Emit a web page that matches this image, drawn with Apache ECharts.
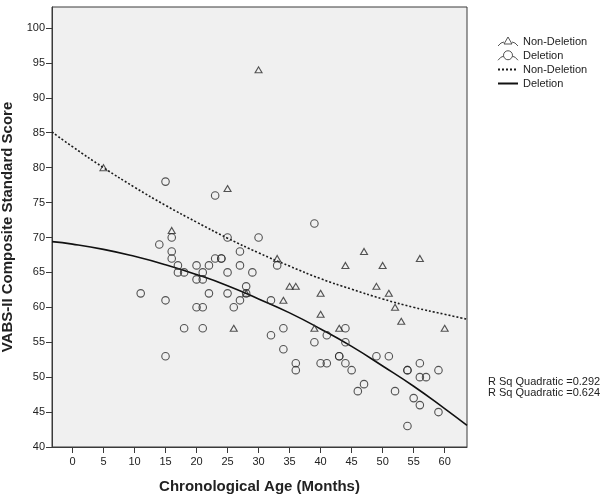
<!DOCTYPE html>
<html>
<head>
<meta charset="utf-8">
<script src="https://cdn.jsdelivr.net/npm/echarts@6/dist/echarts.min.js"></script>
<style>
html,body{margin:0;padding:0;background:#fff;}
#chart{width:607px;height:501px;}
</style>
</head>
<body>
<div id="chart"></div>
<script>
// ---- data ----
const nonDelAge   = [5, 30, 25, 16, 33, 35, 36, 34, 26, 40, 40, 39, 43, 44, 47, 49, 50, 51, 52, 53, 56, 60, 28];
const nonDelScore = [80, 94, 77, 71, 67, 63, 63, 61, 57, 62, 59, 57, 57, 66, 68, 63, 66, 62, 60, 58, 67, 57, 62];

const delAge   = [15, 23, 39, 30, 25, 16, 14, 16, 16, 27, 23, 24, 24, 17, 20, 22, 27, 33, 17, 18, 21, 25, 29, 20, 21, 28,
                  11, 22, 25, 28, 15, 27, 32, 20, 21, 26, 18, 21, 34, 44, 32, 41, 39, 44, 34, 15, 43, 43, 49, 51,
                  36, 40, 41, 44, 56, 36, 45, 54, 54, 59, 56, 57, 47, 46, 52, 55, 56, 59, 54];
const delScore = [78, 76, 72, 70, 70, 70, 69, 68, 67, 68, 67, 67, 67, 66, 66, 66, 66, 66, 65, 65, 65, 65, 65, 64, 64, 63,
                  62, 62, 62, 62, 61, 61, 61, 60, 60, 60, 57, 57, 57, 57, 56, 56, 55, 55, 54, 53, 53, 53, 53, 53,
                  52, 52, 52, 52, 52, 51, 51, 51, 51, 51, 50, 50, 49, 48, 48, 47, 46, 45, 43];

// quadratic fit lines at these ages
const fitAge      = [-3.3, 0, 5, 10, 15, 20, 25, 30, 35, 40, 45, 50, 55, 60, 63.6];
const nonDelFit   = [85.1, 83.0, 80.0, 77.2, 74.6, 72.2, 69.9, 67.8, 65.9, 64.1, 62.6, 61.2, 60.0, 59.0, 58.3];
const delFit      = [69.4, 69.05, 68.3, 67.3, 66.1, 64.7, 63.1, 61.2, 59.2, 56.9, 54.4, 51.6, 48.7, 45.5, 43.1];

const xTicks = [0, 5, 10, 15, 20, 25, 30, 35, 40, 45, 50, 55, 60];
const yTicks = [40, 45, 50, 55, 60, 65, 70, 75, 80, 85, 90, 95, 100];

const xTitle = 'Chronological Age (Months)';
const yTitle = 'VABS-II Composite Standard Score';
const legendNames = ['Non-Deletion', 'Deletion', 'Non-Deletion\u200b', 'Deletion\u200b'];
const rsqLabels = ['R Sq Quadratic =0.292', 'R Sq Quadratic =0.624'];

// ---- build ----
const zip = (a, b) => a.map((v, i) => [v, b[i]]);
const FONT = 'Liberation Sans, Arial, sans-serif';
const ink = '#2a2a2a';

const triIcon = 'path://M0,10 Q3,6 6,6 M14,6 Q17,6 20,10 M6,8 L10,1 L14,8 Z';
const cirIcon = 'path://M0,10 Q3,6 5.5,6 M14.5,6 Q17,6 20,10 M14.5,5 A4.5,4.5 0 1 1 5.5,5 A4.5,4.5 0 1 1 14.5,5 Z';
const hidden = {color: 'rgba(0,0,0,0)', borderColor: 'rgba(0,0,0,0)', borderWidth: 0, opacity: 0};

const chart = echarts.init(document.getElementById('chart'), null, {renderer: 'canvas'});
chart.setOption({
  backgroundColor: '#ffffff',
  animation: false,
  textStyle: {fontFamily: FONT},
  grid: {
    left: 52, top: 7, width: 415, height: 440,
    show: true, backgroundColor: '#f0f0f0', borderColor: '#3a3a3a', borderWidth: 1,
    outerBoundsMode: 'none'
  },
  xAxis: {
    type: 'value', min: -3.3, max: 63.6,
    name: xTitle, nameLocation: 'middle', nameGap: 32,
    nameTextStyle: {fontFamily: FONT, fontSize: 15, fontWeight: 'bold', color: '#222'},
    axisLine: {show: true, onZero: false, lineStyle: {color: '#3a3a3a', width: 1}},
    axisTick: {show: true, length: 6, customValues: xTicks, lineStyle: {color: '#3a3a3a'}},
    axisLabel: {customValues: xTicks, fontSize: 11, color: '#222', margin: 9, fontFamily: FONT},
    splitLine: {show: false}
  },
  yAxis: {
    type: 'value', min: 40, max: 103,
    name: yTitle, nameLocation: 'middle', nameGap: 32, nameRotate: 90,
    nameTextStyle: {fontFamily: FONT, fontSize: 15, fontWeight: 'bold', color: '#222'},
    axisLine: {show: true, onZero: false, lineStyle: {color: '#3a3a3a', width: 1}},
    axisTick: {show: true, length: 6, customValues: yTicks, lineStyle: {color: '#3a3a3a'}},
    axisLabel: {customValues: yTicks, fontSize: 11, color: '#222', margin: 7, fontFamily: FONT},
    splitLine: {show: false}
  },
  legend: {
    orient: 'vertical', left: 497, top: 36, padding: 0,
    itemWidth: 20, itemHeight: 11, itemGap: 3,
    textStyle: {fontFamily: FONT, fontSize: 11, color: '#222'},
    data: [
      {name: legendNames[0], icon: triIcon, itemStyle: {color: 'rgba(0,0,0,0)', borderColor: ink, borderWidth: 1}},
      {name: legendNames[1], icon: cirIcon, itemStyle: {color: 'rgba(0,0,0,0)', borderColor: ink, borderWidth: 1}},
      {name: legendNames[2], itemStyle: hidden},
      {name: legendNames[3], itemStyle: hidden}
    ]
  },
  graphic: rsqLabels.map((t, i) => ({
    type: 'text', left: 488, top: 376 + i * 11,
    style: {text: t, fontFamily: FONT, fontSize: 11, fill: '#222'}
  })),
  series: [
    {
      name: legendNames[0], type: 'scatter', symbol: 'triangle', symbolSize: [7, 6],
      itemStyle: {color: 'rgba(0,0,0,0)', borderColor: ink, borderWidth: 1.1},
      data: zip(nonDelAge, nonDelScore), z: 3
    },
    {
      name: legendNames[1], type: 'scatter', symbol: 'circle', symbolSize: 7.5,
      itemStyle: {color: 'rgba(0,0,0,0)', borderColor: ink, borderWidth: 1.1},
      data: zip(delAge, delScore), z: 3
    },
    {
      name: legendNames[2], type: 'line', smooth: true, symbol: 'none',
      lineStyle: {color: '#1a1a1a', width: 1.6, type: [2, 2]},
      itemStyle: {color: '#1a1a1a'},
      data: zip(fitAge, nonDelFit), z: 2
    },
    {
      name: legendNames[3], type: 'line', smooth: true, symbol: 'none',
      lineStyle: {color: '#111', width: 1.6},
      itemStyle: {color: '#111'},
      data: zip(fitAge, delFit), z: 2
    }
  ]
});
</script>
</body>
</html>
